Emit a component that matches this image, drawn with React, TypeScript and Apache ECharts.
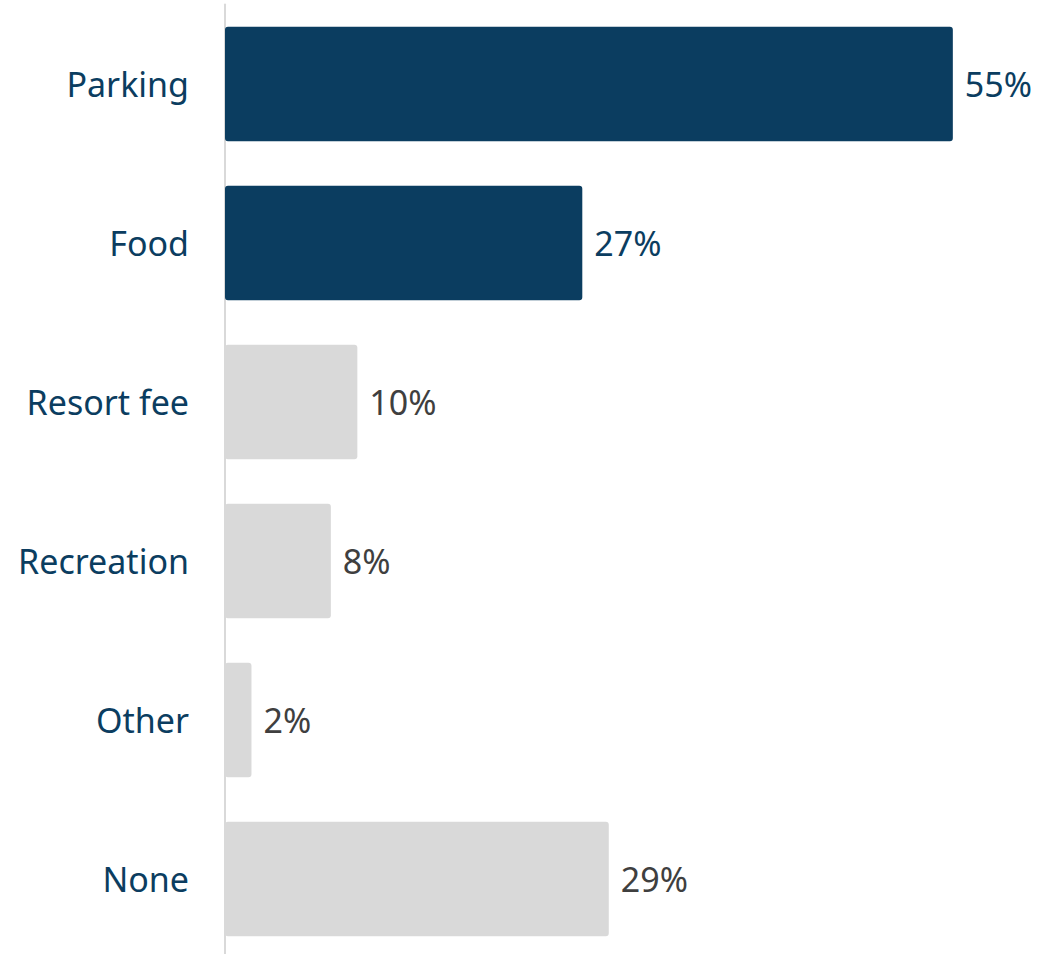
import React, { useEffect, useRef } from "react";
import * as echarts from "echarts";

const categories = ["Parking", "Food", "Resort fee", "Recreation", "Other", "None"];
const values = [55, 27, 10, 8, 2, 29];
const highlighted = [true, true, false, false, false, false];

const NAVY = "#0b3d60";
const GREY = "#d9d9d9";
const LABEL_GREY = "#3f3f3f";
const FONT = "'Noto Sans', sans-serif";

export default function App() {
  const ref = useRef<HTMLDivElement>(null);
  useEffect(() => {
    if (!ref.current) return;
    const chart = echarts.init(ref.current, undefined, { renderer: "svg" });
    chart.setOption({
      animation: false,
      grid: { left: 225, top: 4.5, width: 794, height: 954, containLabel: false },
      xAxis: { type: "value", min: 0, max: 60, show: false },
      yAxis: {
        type: "category",
        data: categories,
        inverse: true,
        axisLine: { show: true, lineStyle: { color: "#d9d9d9", width: 2 } },
        axisTick: { show: false },
        axisLabel: { color: NAVY, fontSize: 34, fontFamily: FONT, margin: 36 },
      },
      series: [
        {
          type: "bar",
          barCategoryGap: "28%",
          data: values.map((v, i) => ({
            value: v,
            itemStyle: { color: highlighted[i] ? NAVY : GREY, borderRadius: 3 },
            label: { color: highlighted[i] ? NAVY : LABEL_GREY },
          })),
          label: {
            show: true,
            position: "right",
            distance: 12,
            fontSize: 34,
            fontFamily: FONT,
            formatter: "{c}%",
          },
        },
      ],
    });
    return () => chart.dispose();
  }, []);
  return (
    <div
      ref={ref}
      style={{ position: "fixed", top: 0, left: 0, width: 1056, height: 970, background: "#fff" }}
    />
  );
}
